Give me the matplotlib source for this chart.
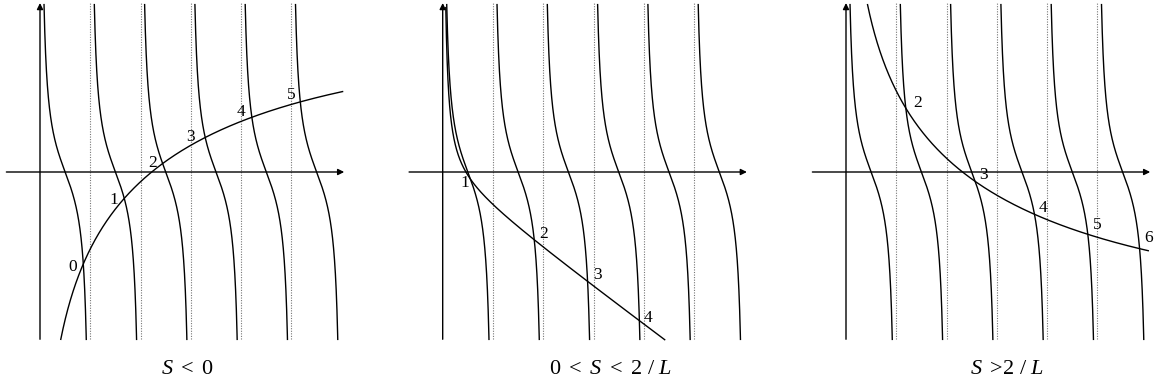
import numpy as np
import matplotlib
matplotlib.use("Agg")
import matplotlib.pyplot as plt

plt.rcParams['font.family'] = ['Liberation Serif', 'DejaVu Serif']
plt.rcParams['mathtext.fontset'] = 'custom'
plt.rcParams['mathtext.rm'] = 'Liberation Serif'
plt.rcParams['mathtext.it'] = 'Liberation Serif:italic'

# ---- data ----
n_branches = 6                      # cot branches between k*pi and (k+1)*pi
asymptotes = [1, 2, 3, 4, 5]        # dotted lines at n*pi
y_limit = 3.9                       # clipping of curves (cot units)

captions = [r'$S\ <\ 0$', r'$0\ <\ S\ <\ 2\ /\ L$', r'$S\ >\!2\ /\ L$']

# secondary curve parameters
# panel 1: a + b*ln(x) + d*x
p1_a, p1_b, p1_d, p1_xend = -4.473, 2.485, -0.0508, 18.9
# panel 2: c/x - d*x + e
p2_c, p2_d, p2_e = 0.777, 0.2754, -0.137
# panel 3: a - b*ln(x) + d*x
p3_a, p3_b, p3_d, p3_xend = 4.563, 2.462, 0.0445, 18.88

# intersection labels (text, x, y) in data units
labels1 = ['0', '1', '2', '3', '4', '5']
labels1_x = [2.04, 4.64, 7.04, 9.37, 12.54, 15.68]
labels1_y = [-2.20, -0.65, 0.22, 0.82, 1.40, 1.79]
labels2 = ['1', '2', '3', '4']
labels2_x = [1.40, 6.28, 9.66, 12.80]
labels2_y = [-0.25, -1.44, -2.40, -3.40]
labels3 = ['2', '3', '4', '5', '6']
labels3_x = [4.45, 8.57, 12.3, 15.7, 18.88]
labels3_y = [1.61, -0.07, -0.84, -1.23, -1.54]

# ---- layout (pixels) ----
W, H = 1156, 388
sx, sy = 16.01, 43.0           # px per unit
y0_px = 172.0
origins = [40.0, 442.7, 846.0]
rects = [(0, 360), (400, 760), (805, 1156)]
cap_x = [188, 610, 1007]
cap_y = 369

fig = plt.figure(figsize=(W / 100, H / 100), dpi=100)

def make_ax(i):
    xl, xr = rects[i]
    ox = origins[i]
    top_px, bot_px = 0, 345
    ax = fig.add_axes([xl / W, (H - bot_px) / H, (xr - xl) / W, (bot_px - top_px) / H])
    ax.set_xlim((xl - ox) / sx, (xr - ox) / sx)
    ax.set_ylim((y0_px - bot_px) / sy, (y0_px - top_px) / sy)
    ax.axis('off')
    return ax

def draw_common(ax):
    # axes with arrows
    ax.annotate('', xy=(19.0, 0), xytext=(-2.1, 0),
                arrowprops=dict(arrowstyle='-|>', color='black', lw=1.0,
                                mutation_scale=9, shrinkA=0, shrinkB=0))
    ax.annotate('', xy=(0, 3.93), xytext=(0, -3.89),
                arrowprops=dict(arrowstyle='-|>', color='black', lw=1.0,
                                mutation_scale=9, shrinkA=0, shrinkB=0))
    for n in asymptotes:
        ax.plot([n * np.pi, n * np.pi], [-3.89, 3.92], color='#777777',
                lw=0.8, linestyle=(0, (1, 1.3)))
    for k in range(n_branches):
        t = np.linspace(0.001, np.pi - 0.001, 4000)
        y = np.cos(t) / np.sin(t)
        m = np.abs(y) <= y_limit
        ax.plot(k * np.pi + t[m], y[m], color='black', lw=1.0)

def draw_curve(ax, x, y):
    m = np.abs(y) <= y_limit
    ax.plot(x[m], y[m], color='black', lw=1.0)

def draw_labels(ax, txt, xs, ys):
    for t, x, y in zip(txt, xs, ys):
        ax.text(x, y, t, fontsize=12.5, ha='center', va='center')

# panel 1
ax1 = make_ax(0)
draw_common(ax1)
x = np.linspace(0.5, p1_xend, 3000)
draw_curve(ax1, x, p1_a + p1_b * np.log(x) + p1_d * x)
draw_labels(ax1, labels1, labels1_x, labels1_y)

# panel 2
ax2 = make_ax(1)
draw_common(ax2)
x = np.linspace(0.05, 16, 4000)
draw_curve(ax2, x, p2_c / x - p2_d * x + p2_e)
draw_labels(ax2, labels2, labels2_x, labels2_y)

# panel 3
ax3 = make_ax(2)
draw_common(ax3)
x = np.linspace(0.5, p3_xend, 3000)
draw_curve(ax3, x, p3_a - p3_b * np.log(x) + p3_d * x)
draw_labels(ax3, labels3, labels3_x, labels3_y)

for cx, cap in zip(cap_x, captions):
    fig.text(cx / W, 1 - cap_y / H, cap, fontsize=16, ha='center', va='center')

fig.savefig('out.png', dpi=100)
